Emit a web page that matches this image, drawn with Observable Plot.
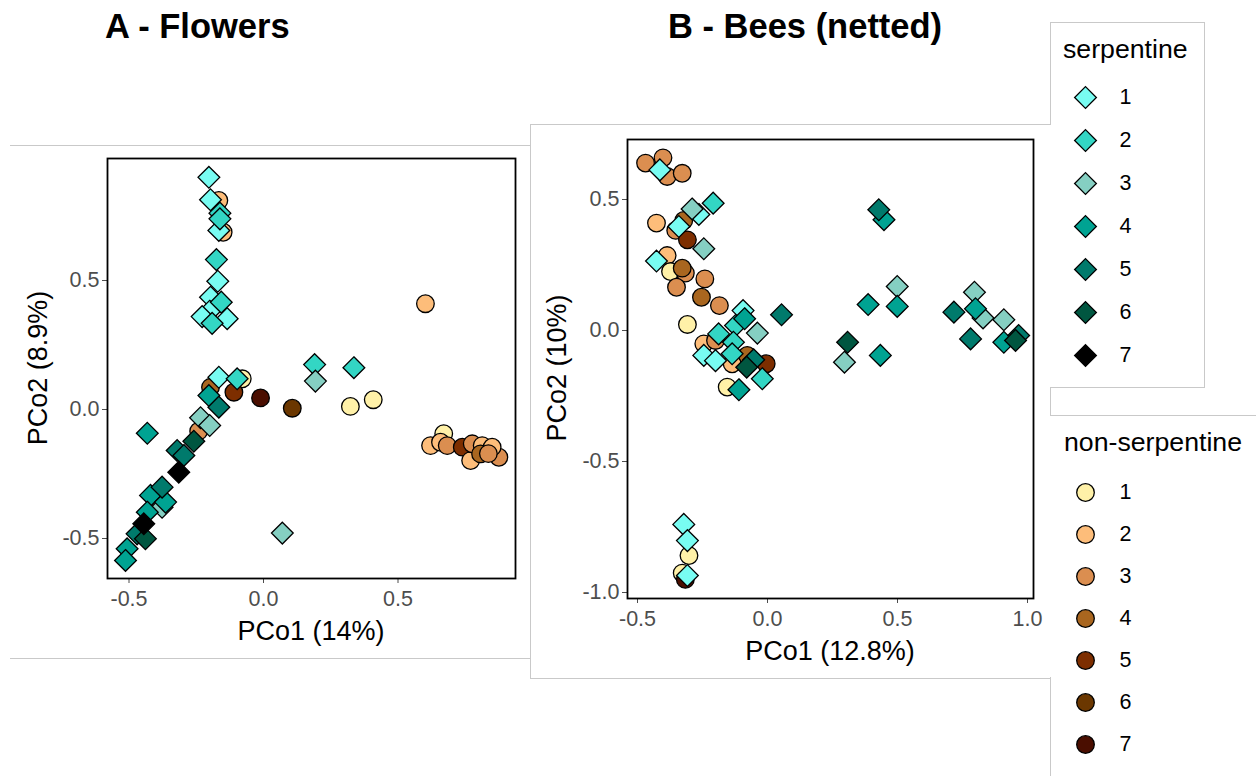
<!DOCTYPE html>
<html><head><meta charset="utf-8">
<script src="https://cdn.jsdelivr.net/npm/d3@7"></script>
<script src="https://cdn.jsdelivr.net/npm/@observablehq/plot@0.6"></script>
<style>
body{margin:0;background:#fff;font-family:"Liberation Sans",Arial,sans-serif;}
#wrap{position:relative;width:1256px;height:776px;overflow:hidden;background:#fff;}
.gl{position:absolute;background:#c9c9c9;}
.txt{position:absolute;white-space:nowrap;line-height:1;color:#000;}
</style></head><body><div id="wrap"></div>
<script>
// ---------- data ----------
const levels = ["1","2","3","4","5","6","7"];
const serpColors = ["#78FCF2","#33D6C4","#85CFC2","#00A392","#007A6C","#005640","#000000"];
const nonSerpColors = ["#FFF1A8","#FDBD7A","#DB8E50","#A9661F","#7D2E00","#6B3700","#4A0E00"];

// [group, PCo1, PCo2]
const flowersSerpentine = [
  [1,-0.203,0.900],[1,-0.197,0.813],[1,-0.166,0.694],[1,-0.170,0.497],[1,-0.197,0.435],
  [1,-0.200,0.381],[1,-0.228,0.360],[1,-0.135,0.352],[1,-0.166,0.125],
  [2,-0.162,0.761],[2,-0.162,0.739],[2,-0.175,0.581],[2,-0.157,0.416],[2,-0.191,0.334],
  [2,-0.098,0.119],[2,0.190,0.174],[2,0.336,0.162],
  [3,0.193,0.110],[3,0.070,-0.479],[3,-0.234,-0.032],[3,-0.200,-0.062],[3,-0.377,-0.379],
  [4,-0.203,0.054],[4,-0.432,-0.092],[4,-0.420,-0.333],[4,-0.364,-0.359],[4,-0.432,-0.398],
  [4,-0.507,-0.540],[4,-0.513,-0.585],
  [5,-0.166,0.009],[5,-0.321,-0.159],[5,-0.296,-0.178],[5,-0.377,-0.301],[5,-0.470,-0.482],
  [6,-0.259,-0.123],[6,-0.439,-0.501],
  [7,-0.315,-0.243],[7,-0.445,-0.443]
];
const flowersNonSerpentine = [
  [2,-0.166,0.810],[2,-0.150,0.687],[1,-0.079,0.119],[4,-0.197,0.086],[5,-0.110,0.067],
  [7,-0.011,0.045],[6,0.107,0.005],[3,-0.241,-0.084],[2,0.602,0.410],[1,0.323,0.012],
  [1,0.408,0.038],[1,0.670,-0.094],[2,0.621,-0.140],[2,0.658,-0.127],[3,0.683,-0.140],
  [5,0.739,-0.146],[2,0.770,-0.198],[3,0.776,-0.133],[2,0.813,-0.140],[4,0.807,-0.172],
  [3,0.875,-0.185],[2,0.850,-0.146],[3,0.836,-0.171]
];
const beesSerpentine = [
  [1,-0.414,0.613],[1,-0.264,0.443],[1,-0.341,0.397],[1,-0.427,0.265],[1,-0.094,0.076],
  [1,-0.245,-0.095],[1,-0.200,-0.115],[1,-0.322,-0.740],[1,-0.308,-0.802],[1,-0.308,-0.935],
  [2,-0.209,0.486],[2,-0.123,0.019],[2,-0.188,-0.013],[2,-0.131,-0.045],[2,-0.136,-0.089],[2,-0.020,-0.184],
  [3,-0.290,0.464],[3,-0.245,0.312],[3,-0.039,-0.010],[3,0.499,0.168],[3,0.296,-0.121],
  [3,0.796,0.146],[3,0.829,0.048],[3,0.909,0.041],
  [4,-0.088,0.045],[4,-0.110,-0.226],[4,0.448,0.423],[4,0.387,0.099],[4,0.499,0.092],
  [4,0.434,-0.095],[4,0.800,0.083],[4,0.909,-0.045],
  [5,0.054,0.060],[5,-0.053,-0.112],[5,0.428,0.461],[5,0.717,0.070],[5,0.781,-0.032],[5,0.966,-0.019],
  [6,-0.080,-0.140],[6,0.308,-0.045],[6,0.954,-0.038]
];
const beesNonSerpentine = [
  [3,-0.469,0.639],[3,-0.402,0.659],[3,-0.386,0.588],[3,-0.328,0.600],[2,-0.427,0.410],
  [4,-0.322,0.420],[3,-0.353,0.382],[5,-0.308,0.346],[2,-0.386,0.286],[1,-0.373,0.225],
  [3,-0.316,0.219],[4,-0.328,0.238],[3,-0.350,0.165],[3,-0.241,0.197],[4,-0.254,0.127],
  [3,-0.185,0.095],[1,-0.308,0.023],[2,-0.245,-0.051],[3,-0.200,-0.038],[4,-0.078,-0.095],
  [5,-0.005,-0.127],[2,-0.136,-0.127],[1,-0.155,-0.216],[1,-0.302,-0.859],[1,-0.328,-0.926],
  [7,-0.316,-0.950]
];
const flowersXTicks = [-0.5, 0, 0.5];
const flowersYTicks = [-0.5, 0, 0.5];
const beesXTicks = [-0.5, 0, 0.5, 1.0];
const beesYTicks = [-1.0, -0.5, 0, 0.5];

// ---------- drawing ----------
const FONT = '"Liberation Sans", Arial, sans-serif';
const wrap = document.getElementById("wrap");
const fmt = d => d.toFixed(1);

function panel(circles, diamonds, xDomain, yDomain, xTicks, yTicks, w, h, m) {
  return Plot.plot({
    width: w, height: h,
    marginLeft: m[0], marginRight: m[1], marginTop: m[2], marginBottom: m[3],
    x: {domain: xDomain}, y: {domain: yDomain},
    color: {type: "identity"},
    style: {fontFamily: FONT, background: "transparent", overflow: "visible"},
    marks: [
      Plot.axisX(xTicks, {tickSize: 5, tickPadding: 7, fontSize: 21.5, color: "#4d4d4d", label: null, tickFormat: fmt}),
      Plot.axisY(yTicks, {tickSize: 5, tickPadding: 3, fontSize: 21.5, color: "#4d4d4d", label: null, tickFormat: fmt}),
      Plot.dot(circles, {x: d => d[1], y: d => d[2], fill: d => nonSerpColors[d[0]-1], stroke: "black", strokeWidth: 1.3, r: 8.8, symbol: "circle"}),
      Plot.dot(diamonds, {x: d => d[1], y: d => d[2], fill: d => serpColors[d[0]-1], stroke: "black", strokeWidth: 1.3, r: 9.8, symbol: "diamond2"}),
      Plot.frame({stroke: "black", strokeWidth: 1.8})
    ]
  });
}

function legend(colors, symbol, r, firstY, lastY) {
  return Plot.plot({
    width: 200, height: 776,
    marginLeft: 35, marginRight: 0, marginTop: firstY, marginBottom: 776 - lastY,
    y: {type: "point", domain: levels, padding: 0, axis: null},
    color: {type: "identity"},
    style: {fontFamily: FONT, background: "transparent", overflow: "visible"},
    marks: [
      Plot.dot(levels, {y: d => d, frameAnchor: "left", fill: d => colors[+d-1], stroke: "black", strokeWidth: 1.3, r, symbol}),
      Plot.text(levels, {y: d => d, text: d => d, frameAnchor: "left", dx: 34, textAnchor: "start", fontSize: 21.5, fill: "#000"})
    ]
  });
}

function place(el, left, top) {
  el.style.position = "absolute"; el.style.left = left + "px"; el.style.top = top + "px";
  wrap.appendChild(el);
}
function gline(x, y, w, h) {
  const d = document.createElement("div"); d.className = "gl";
  Object.assign(d.style, {left: x + "px", top: y + "px", width: w + "px", height: h + "px"});
  wrap.appendChild(d);
}
function text(str, x, baseline, size, opts = {}) {
  const d = document.createElement("div"); d.className = "txt";
  d.textContent = str;
  d.style.fontSize = size + "px";
  if (opts.bold) d.style.fontWeight = "bold";
  const top = baseline - 0.8465 * size;
  if (opts.rotate) {
    Object.assign(d.style, {left: x + "px", top: baseline + "px", transform: "translate(-50%,-50%) rotate(-90deg)", transformOrigin: "50% 50%"});
  } else if (opts.center) {
    Object.assign(d.style, {left: x + "px", top: top + "px", transform: "translateX(-50%)"});
  } else {
    Object.assign(d.style, {left: x + "px", top: top + "px"});
  }
  wrap.appendChild(d);
}

// gray background borders
gline(10, 145, 520, 1); gline(10, 658, 520, 1);
gline(530, 124, 520, 1); gline(530, 678, 520, 1); gline(530, 124, 1, 555);
gline(1050, 22, 155, 1); gline(1204, 22, 1, 366); gline(1050, 387, 155, 1); gline(1050, 22, 1, 103);
gline(1050, 388, 1, 27); gline(1050, 415, 206, 1); gline(1050, 677, 1, 99);

// panels: frame A x 107..515, y 158..578 ; frame B x 627..1033, y 139..598
const pA = panel(flowersNonSerpentine, flowersSerpentine,
  [(107-263)/269, (515-263)/269], [(409-578)/258, (409-158)/258],
  flowersXTicks, flowersYTicks, 530, 700, [107, 15, 158, 122]);
place(pA, 0, 0);
const pB = panel(beesNonSerpentine, beesSerpentine,
  [(627-767)/260, (1033-767)/260], [(330-598)/262, (330-139)/262],
  beesXTicks, beesYTicks, 520, 700, [97, 17, 139, 102]);
place(pB, 530, 0);

// legends
place(legend(serpColors, "diamond2", 9.8, 97, 355), 1050, 0);
place(legend(nonSerpColors, "circle", 8.8, 490, 745), 1050, 0);

// texts
text("A - Flowers", 105, 38, 34.5, {bold: true});
text("B - Bees (netted)", 668, 38, 34.5, {bold: true});
text("PCo1 (14%)", 311, 641, 27, {center: true});
text("PCo1 (12.8%)", 830, 661, 27, {center: true});
text("PCo2 (8.9%)", 38, 368, 27, {rotate: true});
text("PCo2 (10%)", 557, 368, 27, {rotate: true});
text("serpentine", 1063, 59, 26.7);
text("non-serpentine", 1064, 452, 26.7);
</script></body></html>
